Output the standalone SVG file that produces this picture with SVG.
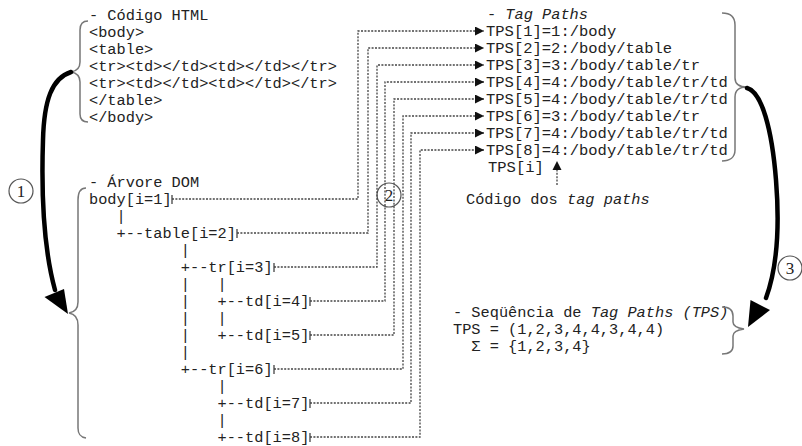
<svg xmlns="http://www.w3.org/2000/svg" width="802" height="446" viewBox="0 0 802 446">
<style>
  text { font-family: "Liberation Mono", "Courier New", monospace; font-size: 15.3px; fill: #222; white-space: pre; }
  .it { font-style: italic; }
  .tps { font-size: 15.5px; }
  .num { font-family: "Liberation Serif", "Times New Roman", serif; font-size: 17px; text-anchor: middle; }
  .brace { fill: none; stroke: #777; stroke-width: 1.5; }
  .big { fill: none; stroke: #000; stroke-width: 4.5; stroke-linecap: round; }
  .dot { fill: none; stroke: #444; stroke-width: 1.3; stroke-dasharray: 2 1.4; }
  .tick { stroke: #444; stroke-width: 1.3; }
  .circ { fill: none; stroke: #555; stroke-width: 1.2; }
</style>
<defs>
  <marker id="ah" viewBox="0 0 10 10" refX="10" refY="5" markerWidth="9" markerHeight="9" markerUnits="userSpaceOnUse" orient="auto">
    <path d="M0,0 L10,5 L0,10 z" fill="#111"/>
  </marker>
</defs>
<rect width="802" height="446" fill="#fff"/>

<g id="html-code">
  <text x="89" y="20" xml:space="preserve">- Código HTML</text>
  <text x="89" y="37">&lt;body&gt;</text>
  <text x="89" y="54">&lt;table&gt;</text>
  <text x="89" y="71">&lt;tr&gt;&lt;td&gt;&lt;/td&gt;&lt;td&gt;&lt;/td&gt;&lt;/tr&gt;</text>
  <text x="89" y="88">&lt;tr&gt;&lt;td&gt;&lt;/td&gt;&lt;td&gt;&lt;/td&gt;&lt;/tr&gt;</text>
  <text x="89" y="105">&lt;/table&gt;</text>
  <text x="89" y="122">&lt;/body&gt;</text>
  <path class="brace" d="M88,21 C82,21 80,24 80,30 L80,62 C80,68 77,71 71,72 C77,73 80,76 80,82 L80,114 C80,119 82,122 88,122"/>
</g>

<g id="dom-tree">
  <text x="89" y="187" xml:space="preserve">- Árvore DOM</text>
  <path class="brace" d="M86,188 C80,188 78,192 78,200 L78,302 C78,309 75,312 69,313 C75,314 78,318 78,325 L78,428 C78,434 80,437 86,438"/>
  <g id="n1"><text x="89" y="204" xml:space="preserve">body[i=1]</text></g>
  <text x="89" y="221" xml:space="preserve">   |</text>
  <g id="n2"><text x="89" y="238" xml:space="preserve">   +--table[i=2]</text></g>
  <text x="89" y="255" xml:space="preserve">          |</text>
  <g id="n3"><text x="89" y="272" xml:space="preserve">          +--tr[i=3]</text></g>
  <text x="89" y="289" xml:space="preserve">          |   |</text>
  <g id="n4"><text x="89" y="306" xml:space="preserve">          |   +--td[i=4]</text></g>
  <text x="89" y="323" xml:space="preserve">          |   |</text>
  <g id="n5"><text x="89" y="340" xml:space="preserve">          |   +--td[i=5]</text></g>
  <text x="89" y="357" xml:space="preserve">          |</text>
  <g id="n6"><text x="89" y="374" xml:space="preserve">          +--tr[i=6]</text></g>
  <text x="89" y="391" xml:space="preserve">              |</text>
  <g id="n7"><text x="89" y="408" xml:space="preserve">              +--td[i=7]</text></g>
  <text x="89" y="425" xml:space="preserve">              |</text>
  <g id="n8"><text x="89" y="442" xml:space="preserve">              +--td[i=8]</text></g>
</g>

<g id="tag-paths">
  <text x="487" y="19" xml:space="preserve">- <tspan class="it">Tag Paths</tspan></text>
  <g id="t1"><text class="tps" x="486" y="36">TPS[1]=1:/body</text></g>
  <g id="t2"><text class="tps" x="486" y="53">TPS[2]=2:/body/table</text></g>
  <g id="t3"><text class="tps" x="486" y="70">TPS[3]=3:/body/table/tr</text></g>
  <g id="t4"><text class="tps" x="486" y="87">TPS[4]=4:/body/table/tr/td</text></g>
  <g id="t5"><text class="tps" x="486" y="104">TPS[5]=4:/body/table/tr/td</text></g>
  <g id="t6"><text class="tps" x="486" y="121">TPS[6]=3:/body/table/tr</text></g>
  <g id="t7"><text class="tps" x="486" y="138">TPS[7]=4:/body/table/tr/td</text></g>
  <g id="t8"><text class="tps" x="486" y="155">TPS[8]=4:/body/table/tr/td</text></g>
  <text class="tps" x="488" y="172">TPS[i]</text>
  <path class="brace" d="M722,13 C730,13 735,17 735,25 L735,78 C735,84 739,87 747,87 C739,87 735,91 735,97 L735,150 C735,157 730,161 722,161"/>
  <text x="466" y="204" xml:space="preserve">Código dos <tspan class="it">tag paths</tspan></text>
</g>

<g id="sequence">
  <text x="453" y="317" xml:space="preserve">- Seqüência de <tspan class="it">Tag Paths (TPS)</tspan></text>
  <text x="453" y="334" xml:space="preserve">TPS = (1,2,3,4,4,3,4,4)</text>
  <text x="453" y="351" xml:space="preserve">  Σ = {1,2,3,4}</text>
  <path class="brace" d="M722,307 C729,307 733,310 733,316 L733,322 C733,326 737,328 744,329 C737,330 733,332 733,336 L733,346 C733,351 729,354 722,354"/>
</g>

<g id="labels">
  <g id="c1"><circle class="circ" cx="21" cy="191" r="12"/><text class="num" x="21" y="197">1</text></g>
  <g id="c2"><circle class="circ" cx="389" cy="195" r="12"/><text class="num" x="389" y="201">2</text></g>
  <g id="c3"><circle class="circ" cx="790" cy="268" r="12"/><text class="num" x="790" y="274">3</text></g>
</g>

<g id="connectors">
  <path class="big" d="M71,72 C52,78 44,100 43,140 C41,200 44,250 55,290"/>
  <polygon points="68,314 44.5,297 64,289" fill="#000"/>
  <path class="big" d="M747,88 C762,92 772,130 776,180 C780,230 777,268 766,298"/>
  <polygon points="748,327 750.5,300 770,310" fill="#000"/>

  <line class="tick" x1="172" y1="195" x2="172" y2="204"/>
  <line class="tick" x1="237" y1="229" x2="237" y2="238"/>
  <line class="tick" x1="274" y1="263" x2="274" y2="272"/>
  <line class="tick" x1="310" y1="297" x2="310" y2="306"/>
  <line class="tick" x1="310" y1="331" x2="310" y2="340"/>
  <line class="tick" x1="274" y1="365" x2="274" y2="374"/>
  <line class="tick" x1="310" y1="399" x2="310" y2="408"/>
  <line class="tick" x1="310" y1="433" x2="310" y2="442"/>

  <path class="dot" marker-end="url(#ah)" d="M172,199 H358 V31 H484"/>
  <path class="dot" marker-end="url(#ah)" d="M237,233 H368 V48 H484"/>
  <path class="dot" marker-end="url(#ah)" d="M274,267 H377 V65 H484"/>
  <path class="dot" marker-end="url(#ah)" d="M310,301 H385 V82 H484"/>
  <path class="dot" marker-end="url(#ah)" d="M310,335 H394 V99 H484"/>
  <path class="dot" marker-end="url(#ah)" d="M274,369 H403 V116 H484"/>
  <path class="dot" marker-end="url(#ah)" d="M310,403 H411 V133 H484"/>
  <path class="dot" marker-end="url(#ah)" d="M310,437 H420 V150 H484"/>

  <path class="dot" d="M557,185 V169"/>
  <polygon points="557,161 552.5,170 561.5,170" fill="#111"/>
</g>
</svg>
